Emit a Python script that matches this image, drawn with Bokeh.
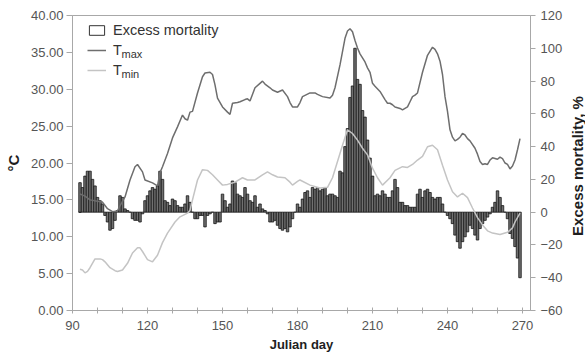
import math
from bokeh.plotting import figure
from bokeh.layouts import row
from bokeh.models import (Range1d, LinearAxis, FixedTicker, PrintfTickFormatter,
                          Legend, LegendItem, Label)
from bokeh.embed import file_html
from bokeh.resources import INLINE

# ---------------- data ----------------
bar_days = list(range(93, 270))
excess_pct = [
    18, 15, 22, 25, 25, 20, 16, 9, 7, 5,
    -2, -6, -11, -10, -5, 1, 10, 9, 2, 1,
    0, -4, -5, -5, -6, -1, 7, 10, 13, 15,
    14, 16, 25, 20, 7, 6, 4, 8, 7, 4,
    3, 3, 5, 10, 6, 0, -4, -4, -2, -2,
    -9, -2, -1, 0, -7, -6, -6, 11, 7, 3,
    5, 19, 18, 11, 10, 9, 15, 11, 7, 6,
    10, 3, 5, 2, 1, -1, -6, -6, -5, -8,
    -10, -11, -10, -12, -9, -4, 0, 5, 3, 8,
    12, 13, 9, 15, 14, 15, 13, 14, 15, 10,
    11, 11, 10, 9, 25, 24, 40, 51, 70, 77,
    100, 81, 78, 62, 58, 44, 33, 22, 10, 11,
    10, 13, 11, 9, 9, 13, 20, 15, 6, 6,
    4, 4, 3, 3, 3, 11, 14, 9, 13, 14,
    12, 9, 8, 9, 9, 5, 0, -2, -4, -7,
    -14, -18, -22, -18, -15, -12, -8, -10, -14, -17,
    -10, -7, -5, -3, -1, 3, 6, 13, 9, 4,
    0, -4, -13, -16, -21, -28, -40,
]

tmax_days = [93, 95, 97, 100, 102, 104, 106, 108, 109, 111,
             113, 115, 116, 118, 119, 122, 124, 125, 126, 128,
             130, 132, 134, 135, 136, 137, 138, 140, 142, 143,
             145, 146, 147, 148, 150, 152, 153, 154, 156, 157,
             159, 160, 161, 163, 165, 166, 167, 169, 170, 172,
             174, 176, 177, 178, 180, 181, 182, 185, 187, 188,
             190, 193, 194, 195, 197, 199, 200, 201, 202, 203,
             204, 205, 207, 208, 209, 210, 211, 213, 215, 216,
             217, 218, 219, 221, 222, 224, 225, 226, 227, 228,
             230, 232, 234, 235, 236, 237, 238, 239, 240, 241,
             242, 243, 244, 245, 246, 247, 248, 249, 251, 252,
             253, 254, 255, 256, 257, 258, 259, 260, 261, 262,
             263, 264, 265, 266, 267, 268, 269]
tmax_c = [15.8, 15.5, 15.0, 14.8, 14.7, 13.8, 13.4, 13.5, 14.2, 15.4,
          17.7, 19.5, 19.8, 18.8, 17.7, 17.3, 16.9, 18.7, 19.5, 21.3,
          23.4, 24.9, 26.5, 26.0, 25.8, 26.9, 27.0, 29.5, 31.7, 32.2,
          32.3, 32.0, 30.6, 28.8, 27.6, 26.9, 26.6, 28.1, 28.2, 28.3,
          28.6, 28.7, 28.4, 30.2, 30.8, 31.1, 30.7, 30.2, 29.9, 29.6,
          29.9, 29.0, 28.2, 27.6, 27.6, 28.2, 29.0, 29.5, 29.5, 29.3,
          29.0, 28.8, 29.2, 30.2, 33.3, 36.9, 37.9, 38.2, 37.8, 36.6,
          35.6, 34.8, 33.7, 32.9, 32.3, 30.8, 30.4, 29.7, 28.6, 28.1,
          28.1, 27.9, 27.6, 27.4, 27.2, 27.6, 28.3, 29.0, 29.2, 29.5,
          32.3, 34.6, 35.7, 35.4, 34.8, 33.8, 32.0, 29.0, 27.0, 24.5,
          23.5, 23.0, 23.2, 23.5, 24.0, 23.8, 23.3, 23.0, 22.0, 21.2,
          20.2, 19.8, 19.9, 19.8, 20.4, 20.7, 20.6, 20.5, 20.8, 20.6,
          20.0, 19.8, 19.2, 19.6, 20.4, 21.8, 23.3]

tmin_days = [93, 94, 95, 96, 97, 99, 101, 102, 103, 105,
             107, 108, 110, 112, 114, 116, 117, 118, 120, 122,
             124, 126, 128, 131, 133, 136, 137, 138, 140, 142,
             144, 146, 148, 150, 152, 155, 158, 160, 163, 166,
             168, 170, 172, 175, 177, 178, 180, 181, 185, 189,
             192, 194, 196, 198, 200, 202, 204, 206, 208, 209,
             210, 212, 214, 217, 219, 222, 224, 226, 228, 230,
             232, 234, 236, 238, 240, 242, 244, 246, 248, 250,
             252, 254, 256, 258, 261, 264, 266, 267, 269]
tmin_c = [5.6, 5.5, 5.1, 5.3, 5.8, 7.0, 7.0, 6.9, 6.6, 5.8,
          5.4, 5.3, 5.5, 6.4, 7.8, 8.5, 8.5, 8.0, 6.9, 6.6,
          7.5, 9.2, 10.5, 12.0, 12.7, 13.2, 13.6, 15.0, 17.7, 19.1,
          19.0, 18.4, 17.7, 17.0, 17.1, 17.4, 18.0, 17.7, 17.7, 18.4,
          18.8, 18.4, 18.1, 18.0, 17.4, 17.0, 17.5, 17.7, 17.0, 16.6,
          16.7, 18.0, 20.2, 22.4, 24.5, 24.0, 23.1, 22.0, 21.1, 20.2,
          19.3, 18.0, 17.0, 18.0, 19.0, 19.5, 19.4, 19.8, 20.4, 20.9,
          22.2, 22.4, 21.8, 19.7, 17.7, 16.1, 15.4, 15.9, 15.3, 13.9,
          12.6, 11.6, 10.8, 10.5, 10.3, 10.6, 11.2, 12.0, 13.2]

temp_ticks = [0, 5, 10, 15, 20, 25, 30, 35, 40]
pct_ticks = [-60, -40, -20, 0, 20, 40, 60, 80, 100, 120]
day_major_ticks = [90, 120, 150, 180, 210, 240, 270]
day_minor_ticks = [100, 110, 130, 140, 160, 170, 190, 200, 220, 230, 250, 260]

FONT = "Liberation Sans"
AXIS_GREY = "#a8a8a8"
TICK_TEXT = "#555555"
TITLE_TEXT = "#1e1e1e"

W_MAIN, W_TITLE, H = 565, 20, 354
ML, MR, MT, MB = 72, 33, 15, 43
FRAME_H = H - MT - MB

# ---------------- main figure ----------------
p = figure(width=W_MAIN, height=H, x_range=Range1d(90, 273.2), y_range=Range1d(0, 40),
           output_backend="svg", toolbar_location=None,
           min_border_left=ML, min_border_right=MR, min_border_top=MT, min_border_bottom=MB)
p.extra_y_ranges = {"pct": Range1d(-60, 120)}
p.xgrid.visible = False
p.ygrid.visible = False
p.outline_line_color = AXIS_GREY
p.background_fill_color = "white"
p.border_fill_color = "white"

# legend key for the bars (zero-height, hidden under the first bar)
bar_key = p.vbar(x=bar_days[:1], top=[0], bottom=0, width=1.0, y_range_name="pct",
                 fill_color="white", line_color="#333333", line_width=1)
bars = p.vbar(x=bar_days, top=excess_pct, bottom=0, width=1.0, y_range_name="pct",
              fill_color="#707070", line_color="#141414", line_width=0.8)
tmax_r = p.line(tmax_days, tmax_c, line_color="#6e6e6e", line_width=1.5)
tmin_r = p.line(tmin_days, tmin_c, line_color="#c4c4c4", line_width=1.5)


def style_axis(ax):
    ax.axis_line_color = AXIS_GREY
    ax.major_tick_line_color = AXIS_GREY
    ax.minor_tick_line_color = AXIS_GREY
    ax.major_label_text_font = FONT
    ax.major_label_text_font_size = "13px"
    ax.major_label_text_color = TICK_TEXT
    ax.axis_label_text_font = FONT
    ax.axis_label_text_font_style = "bold"
    ax.axis_label_text_color = TITLE_TEXT


# bottom axis
xa = p.xaxis[0]
style_axis(xa)
xa.ticker = FixedTicker(ticks=day_major_ticks, minor_ticks=day_minor_ticks)
xa.major_tick_in = 3
xa.major_tick_out = 3
xa.minor_tick_in = 3
xa.minor_tick_out = 3
xa.major_label_standoff = 7
xa.axis_label = "Julian day"
xa.axis_label_text_font_size = "13px"
xa.axis_label_standoff = 4

# left axis
ya = p.yaxis[0]
style_axis(ya)
ya.ticker = FixedTicker(ticks=temp_ticks)
ya.formatter = PrintfTickFormatter(format="%.2f")
ya.major_tick_in = 0
ya.major_tick_out = 6
ya.minor_tick_line_color = None
ya.major_label_standoff = 3
ya.axis_label = "°C"
ya.axis_label_text_font_size = "15px"
ya.axis_label_standoff = 6

# right axis (ticks only; its title is drawn in the narrow strip on the right)
ra = LinearAxis(y_range_name="pct", ticker=FixedTicker(ticks=pct_ticks))
style_axis(ra)
ra.major_tick_in = 0
ra.major_tick_out = 5
ra.minor_tick_line_color = None
ra.major_label_standoff = 5
p.add_layout(ra, "right")

# legend
legend = Legend(items=[LegendItem(label="Excess mortality", renderers=[bar_key]),
                       LegendItem(label="T", renderers=[tmax_r]),
                       LegendItem(label="T", renderers=[tmin_r])],
                location=(15, FRAME_H - 65.5), orientation="vertical",
                glyph_width=19, glyph_height=12, label_height=20, label_standoff=7,
                spacing=0, padding=0, margin=0,
                border_line_color=None, background_fill_alpha=0,
                label_text_font=FONT, label_text_font_size="14.5px",
                label_text_color="#333333")
p.add_layout(legend)

for sub, yy in (("max", FRAME_H - 39.2), ("min", FRAME_H - 59.2)):
    p.add_layout(Label(x=49, y=yy, x_units="screen", y_units="screen", text=sub,
                       text_font=FONT, text_font_size="11px", text_color="#333333",
                       text_baseline="alphabetic", text_align="left"))

# ---------------- right title strip ----------------
# (its frame is aligned with the main frame by the row layout)
t = figure(width=W_TITLE, height=H, x_range=Range1d(0, 1), y_range=Range1d(0, 1),
           output_backend="svg", toolbar_location=None,
           x_axis_location=None, y_axis_location=None,
           min_border_left=0, min_border_right=0, min_border_top=MT, min_border_bottom=MB)
t.outline_line_color = None
t.background_fill_color = "white"
t.border_fill_color = "white"
for g in t.grid:
    g.visible = False
t.add_layout(Label(x=12, y=FRAME_H - (166.5 - MT), x_units="screen", y_units="screen",
                   text="Excess mortality, %", angle=math.pi / 2,
                   text_align="center", text_baseline="middle",
                   text_font=FONT, text_font_size="15px", text_font_style="bold",
                   text_color=TITLE_TEXT))

layout = row(p, t, spacing=0)
open("out.html", "w").write(file_html(layout, INLINE))
